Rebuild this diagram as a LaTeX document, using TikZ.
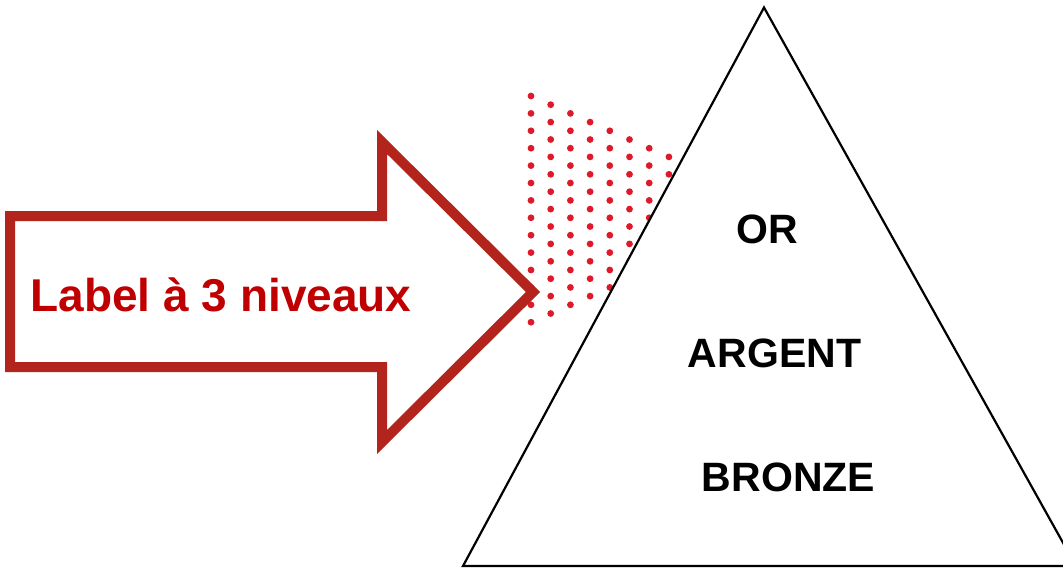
\documentclass[tikz,border=0pt]{standalone}
\usepackage{fontspec}
\setmainfont{Liberation Sans}
\definecolor{arrowred}{RGB}{178,36,28}
\definecolor{textred}{RGB}{192,0,0}
\definecolor{dotred}{RGB}{222,26,42}
\tikzset{
  bigarrow/.style={draw=arrowred, line width=10pt, fill=white, line join=miter},
  pyramid/.style={draw=black, line width=2.2pt, fill=white, line join=miter},
  dotstyle/.style={fill=dotred, draw=none},
  leveltext/.style={font=\bfseries\fontsize{41}{45}\selectfont, anchor=base, inner sep=0pt},
  labeltext/.style={font=\bfseries\fontsize{46}{50}\selectfont, text=textred, anchor=base, inner sep=0pt}
}
\begin{document}
\begin{tikzpicture}[x=1pt,y=-1pt]
\useasboundingbox (0,0) rectangle (1063,568);
\clip (0,0) rectangle (1063,568);
% dotted pattern
\foreach \i in {0,...,7}{
  \pgfmathsetmacro{\nd}{13-\i}
  \foreach \j in {0,...,\nd}{
    \fill[dotstyle] ({531+19.7*\i},{96+8.7*\i+17.4*\j}) circle (3.4);
  }
}
% arrow
\coordinate (a1) at (10,216);
\coordinate (a2) at (382,216);
\coordinate (a3) at (382,142);
\coordinate (tip) at (533,292);
\coordinate (a5) at (382,442);
\coordinate (a6) at (382,367);
\coordinate (a7) at (10,367);
\draw[bigarrow] (a1) -- (a2) -- (a3) -- (tip) -- (a5) -- (a6) -- (a7) -- cycle;
\node[labeltext] (label) at (221,311) {Label à 3 niveaux};
% pyramid
\coordinate (apex) at (764,7.5);
\coordinate (bl) at (463,566);
\coordinate (br) at (1076,566);
\draw[pyramid] (apex) -- (bl) -- (br) -- cycle;
\node[leveltext] (or) at (767.5,243) {OR};
\node[leveltext] (argent) at (774.5,367.5) {ARGENT};
\node[leveltext] (bronze) at (788.5,491.5) {BRONZE};
\end{tikzpicture}
\end{document}
